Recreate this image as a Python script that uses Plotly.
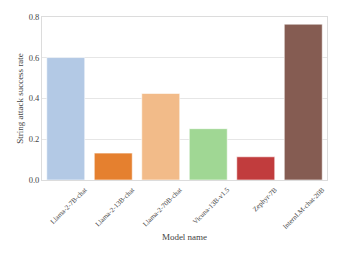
import plotly.graph_objects as go

models = ["Llama-2-7B-chat", "Llama-2-13B-chat", "Llama-2-70B-chat", "Vicuna-13B-v1.5", "Zephyr-7B", "InternLM-chat-20B"]
rates = [0.601, 0.132, 0.425, 0.252, 0.114, 0.765]
colors = ["#b3c9e5", "#e5802f", "#f2bb89", "#a0d794", "#c13c3d", "#855c52"]

fig = go.Figure(go.Bar(
    x=models, y=rates, marker=dict(color=colors, line=dict(color="rgba(255,255,255,0.6)", width=1)),
    width=0.8,
))
font = "Liberation Serif"
fig.update_layout(
    width=335, height=249,
    margin=dict(l=34, r=16, t=9, b=77),
    paper_bgcolor="white", plot_bgcolor="white",
    font=dict(family=font, size=8, color="#444"),
    showlegend=False,
    xaxis=dict(
        title=dict(text="Model name", font=dict(size=9, color="#444"), standoff=3),
        tickangle=-45, tickfont=dict(size=7, color="#444"), ticklabelshift=19, ticklabelstandoff=2,
        showline=True, linecolor="#dcdcdc", linewidth=1, mirror=True,
        range=[-0.5, 5.5], ticks="", showgrid=False, automargin=False,
    ),
    yaxis=dict(
        title=dict(text="String attack success rate", font=dict(size=9, color="#444"), standoff=3),
        range=[0, 0.8], tickvals=[0, 0.2, 0.4, 0.6, 0.8], tickformat=".1f",
        tickfont=dict(size=8.5, color="#444"),
        showgrid=True, gridcolor="#e6e6e6", gridwidth=1,
        showline=True, linecolor="#dcdcdc", linewidth=1, mirror=True,
        zeroline=False, ticks="", automargin=False,
    ),
)
fig.write_html("out.html")
